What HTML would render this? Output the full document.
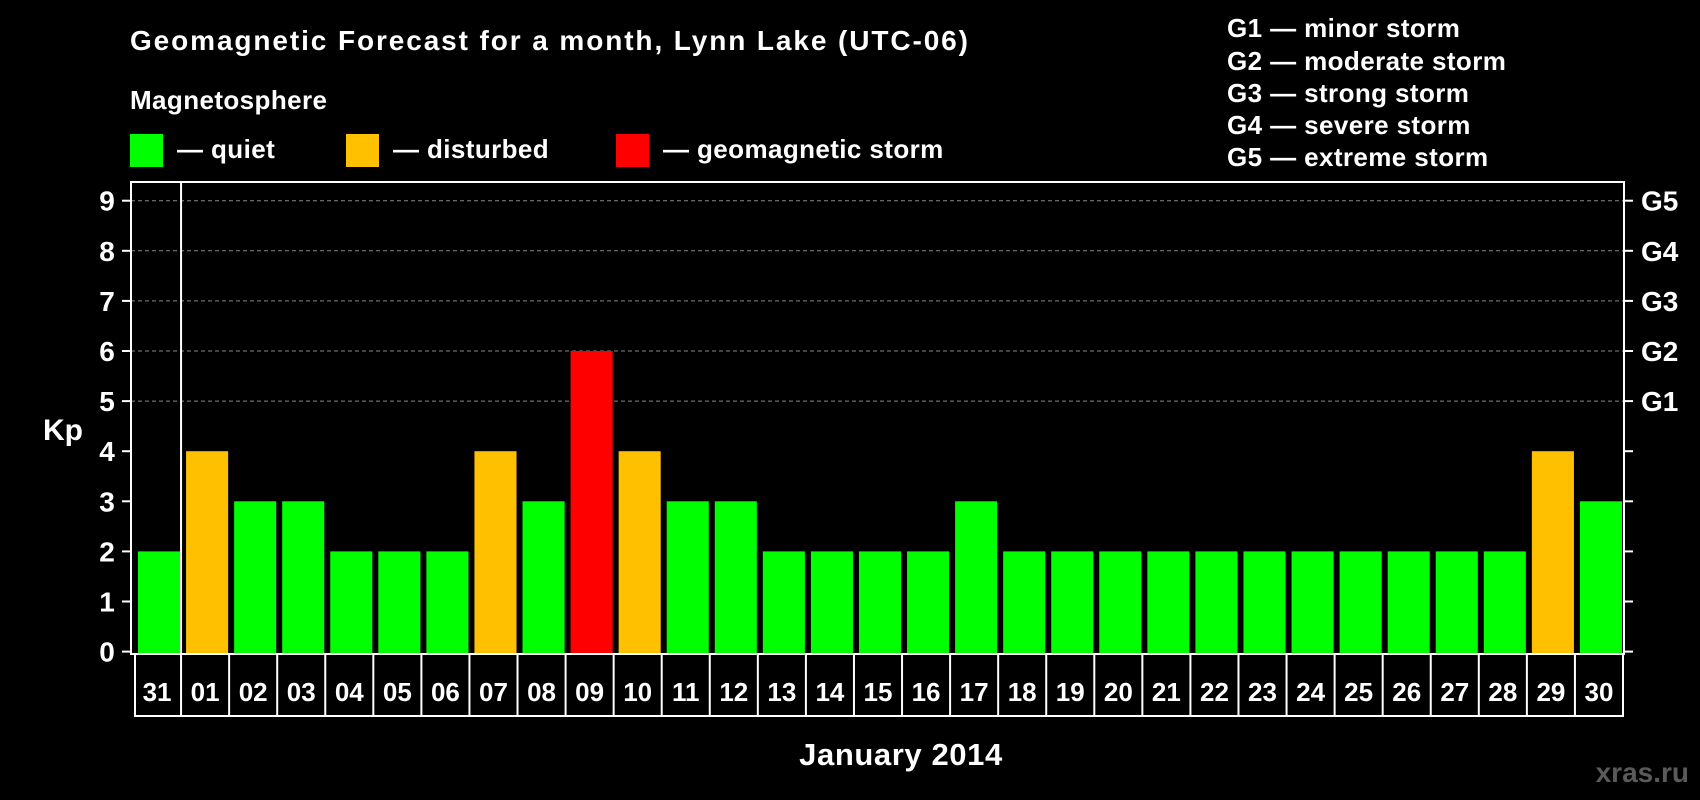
<!DOCTYPE html>
<html><head><meta charset="utf-8"><style>
html,body{margin:0;padding:0;background:#000;}
svg{display:block;font-family:"Liberation Sans",Arial,sans-serif;font-weight:bold;}
</style></head><body>
<svg id="chart" width="1700" height="800" viewBox="0 0 1700 800">
<text x="130" y="50" fill="#fff" font-size="28" letter-spacing="1.9">Geomagnetic Forecast for a month, Lynn Lake (UTC-06)</text>
<text x="130" y="109" fill="#fff" font-size="26" letter-spacing="0.4">Magnetosphere</text>
<g><rect x="130" y="134" width="33" height="33" fill="#00ff00"/><text x="177" y="158" fill="#fff" font-size="26" letter-spacing="0.4">— quiet</text></g>
<g><rect x="346" y="134" width="33" height="33" fill="#ffc000"/><text x="393" y="158" fill="#fff" font-size="26" letter-spacing="0.4">— disturbed</text></g>
<g><rect x="616" y="134" width="33" height="33" fill="#ff0000"/><text x="663" y="158" fill="#fff" font-size="26" letter-spacing="0.4">— geomagnetic storm</text></g>
<g fill="#fff" font-size="26" letter-spacing="0.4">
<text x="1227" y="37">G1 — minor storm</text>
<text x="1227" y="70">G2 — moderate storm</text>
<text x="1227" y="102">G3 — strong storm</text>
<text x="1227" y="134">G4 — severe storm</text>
<text x="1227" y="166">G5 — extreme storm</text>
</g>
<text x="43" y="440" fill="#fff" font-size="30">Kp</text>
<text x="901" y="765" fill="#fff" font-size="31" letter-spacing="0.6" text-anchor="middle">January 2014</text>
<text x="1689" y="782" fill="#5a5a5a" font-size="28" text-anchor="end">xras.ru</text>
<g id="grid"></g><g id="bars"></g><g id="axes"></g>
</svg>
<script>
const days=["31","01","02","03","04","05","06","07","08","09","10","11","12","13","14","15","16","17","18","19","20","21","22","23","24","25","26","27","28","29","30"];
const kpValues=[2,4,3,3,2,2,2,4,3,6,4,3,3,2,2,2,2,3,2,2,2,2,2,2,2,2,2,2,2,4,3];
const yTicks=[0,1,2,3,4,5,6,7,8,9];
const gLabels=["G1","G2","G3","G4","G5"];
const NS="http://www.w3.org/2000/svg";
const L=131,R=1624,T=182,B=654,x0=133,slot=(1623-133)/31;
const y=v=>651.6-v*50.1;
const xs=i=>x0+slot*i;
function mk(tag,a,p){const e=document.createElementNS(NS,tag);for(const k in a)e.setAttribute(k,a[k]);p.appendChild(e);return e;}
const grid=document.getElementById('grid'),bars=document.getElementById('bars'),axes=document.getElementById('axes');
yTicks.forEach(v=>{
 if(v>=5){const g=mk('line',{x1:L,x2:R,y1:y(v),y2:y(v),stroke:'#888','stroke-dasharray':'4,3','stroke-width':1},grid);
 
 }
 mk('line',{x1:122,x2:L,y1:y(v),y2:y(v),stroke:'#fff','stroke-width':2},axes);
 mk('line',{x1:R,x2:R+9,y1:y(v),y2:y(v),stroke:'#fff','stroke-width':2},axes);
 const t=mk('text',{x:107,y:y(v)+10,fill:'#fff','font-size':28,'text-anchor':'middle'},axes);t.textContent=v;
 
 
});
gLabels.forEach((g,i)=>{const t=mk('text',{x:1641,y:y(i+5)+10,fill:'#fff','font-size':28},axes);t.textContent=g;
 
 });
kpValues.forEach((v,i)=>{
 const c=v>=5?'#ff0000':(v>=4?'#ffc000':'#00ff00');
 const r=mk('rect',{x:xs(i)+5,y:y(v),width:slot-6,height:B-y(v),fill:c},bars);
 
 
 const t=mk('text',{x:xs(i)+slot/2,y:701,fill:'#fff','font-size':26,'text-anchor':'middle'},axes);t.textContent=days[i];
 
 
 if(i>0)mk('line',{x1:xs(i),x2:xs(i),y1:B,y2:716,stroke:'#fff','stroke-width':2},axes);
});
mk('rect',{x:L,y:T,width:R-L,height:B-T,fill:'none',stroke:'#fff','stroke-width':2},axes);
mk('line',{x1:xs(1),x2:xs(1),y1:T,y2:B,stroke:'#fff','stroke-width':2},axes);
mk('rect',{x:135,y:B,width:1623-135,height:62,fill:'none',stroke:'#fff','stroke-width':2},axes);
</script>
</body></html>
